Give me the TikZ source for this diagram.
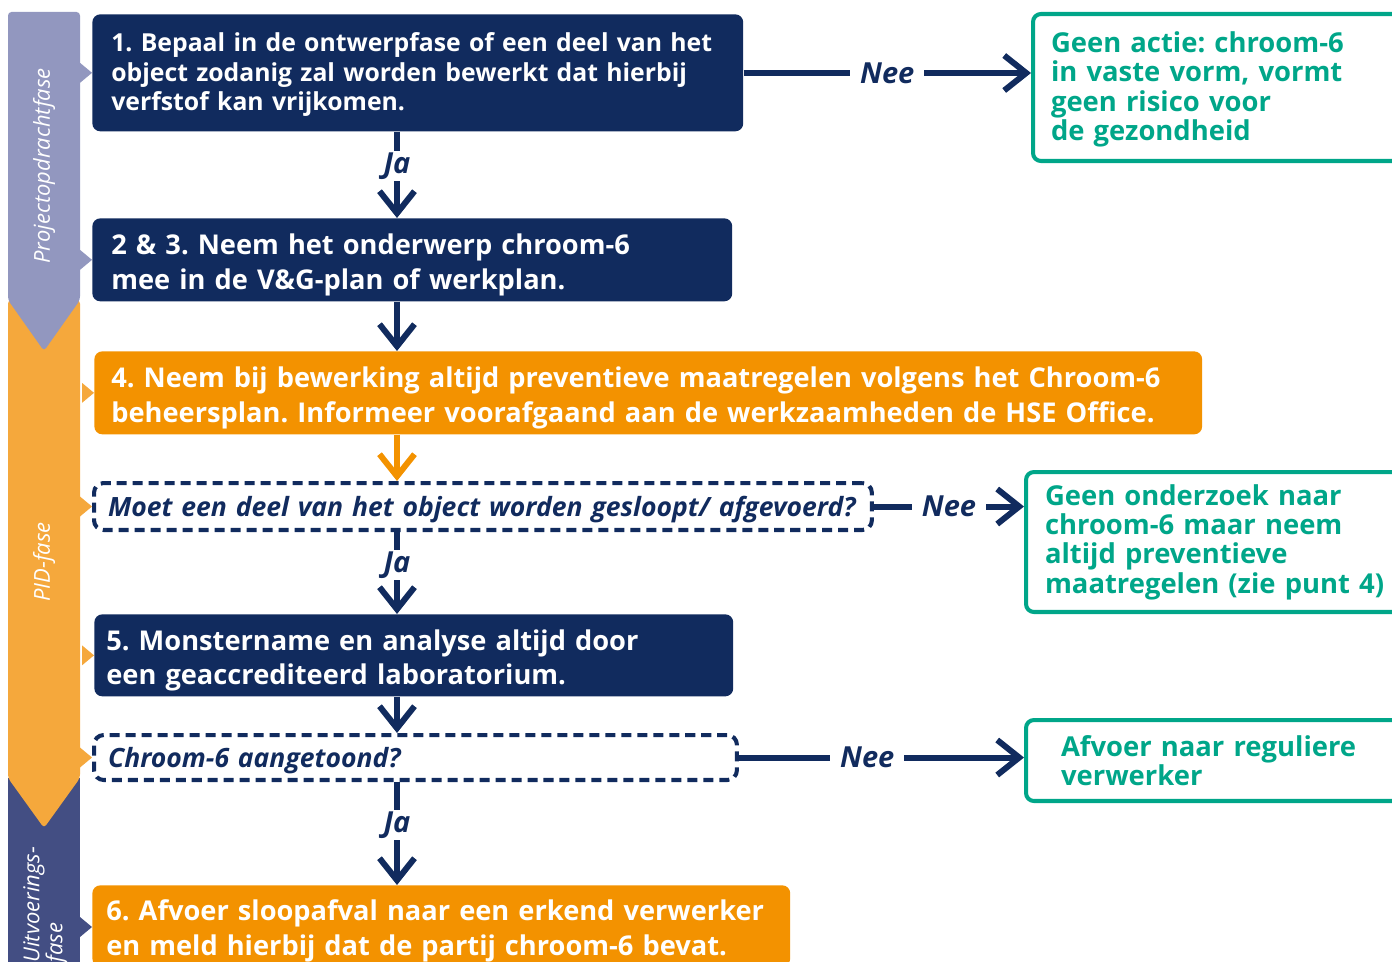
\documentclass[tikz,border=0pt]{standalone}
\usepackage{fontspec}
\setmainfont{Open Sans}
\usetikzlibrary{arrows.meta}
\frenchspacing
\hyphenpenalty=10000
\exhyphenpenalty=10000

\definecolor{navy}{RGB}{17,43,94}
\definecolor{oranje}{RGB}{243,146,0}
\definecolor{groen}{RGB}{0,166,137}
\definecolor{fasepaars}{RGB}{146,151,191}
\definecolor{faseoranje}{RGB}{245,168,60}
\definecolor{faseblauw}{RGB}{67,78,131}

\tikzset{
    stap/.style={fill=navy, text=white, rounded corners=4.5pt, anchor=north west,
        align=left, inner ysep=0pt, inner xsep=0.38cm,
        execute at begin node={\rule{0pt}{17.5pt}},
        font=\bfseries\fontsize{15.5}{19.8}\selectfont},
    oranjestap/.style={stap, fill=oranje},
    vraag/.style={draw=navy, line width=2.3pt, dash pattern=on 5.7pt off 3.4pt,
        rounded corners=5.5pt, text=navy, anchor=north west, align=left,
        inner ysep=0pt, inner xsep=0.28cm,
        execute at begin node={\rule{0pt}{14.9pt}},
        font=\bfseries\itshape\fontsize{15.1}{17}\selectfont},
    uitkomst/.style={draw=groen, line width=2.3pt, rounded corners=4.5pt, text=groen,
        anchor=north west, align=left, inner ysep=0pt,
        font=\bfseries\fontsize{15.6}{16.7}\selectfont},
    pijl/.style={line width=3.4pt, navy, -{Straight Barb[length=4.4mm,width=7mm]}},
    antwoord/.style={fill=white, text=navy, inner xsep=0.2cm, inner ysep=1pt,
        font=\bfseries\itshape\fontsize{16.5}{16.5}\selectfont},
    fase/.style={rotate=90, text=white, font=\itshape\fontsize{12.5}{13}\selectfont}
}

\begin{document}
\begin{tikzpicture}[x=0.02cm, y=-0.02cm]
    \useasboundingbox (0,0) rectangle (1392,962);

    % fasebalk links
    \fill[faseblauw] (8,778) rectangle (80,980);
    \fill[faseoranje, rounded corners=2pt] (8,300) -- (80,300) -- (80,778) -- (44,828) -- (8,778) -- cycle;
    \fill[fasepaars, rounded corners=2pt] (8,12) -- (80,12) -- (80,300) -- (44,351) -- (8,300) -- cycle;
    \node[fase] (f1) at (44,166) {Projectopdrachtfase};
    \node[fase] (f2) at (44,562) {PID-fase};
    \node[fase, anchor=north west, align=left, inner sep=0pt] (f3) at (23,963) {Uitvoerings-\\fase};

    % stappen
    \node[stap, text width=12.26cm, minimum height=2.34cm, execute at begin node={},
          execute at end node={\rule[-8pt]{0pt}{8pt}},
          font=\bfseries\fontsize{14.1}{16.7}\selectfont]
        (b1) at (92,14) {1. Bepaal in de ontwerpfase of een deel van het\\object zodanig zal worden bewerkt dat hierbij\\verfstof kan vrijkomen.};
    \node[stap, text width=12.04cm, minimum height=1.66cm]
        (b2) at (92,218) {2 \& 3. Neem het onderwerp chroom-6\\mee in de V\&G-plan of werkplan.};
    \node[oranjestap, text width=21.48cm, minimum height=1.66cm, inner xsep=0.34cm]
        (b4) at (94,351) {4. Neem bij bewerking altijd preventieve maatregelen volgens het Chroom-6\\beheersplan. Informeer voorafgaand aan de werkzaamheden de HSE Office.};
    \node[vraag, text width=15.0cm, minimum height=0.94cm]
        (q1) at (92,481) {Moet een deel van het object worden gesloopt/ afgevoerd?};
    \node[stap, text width=12.3cm, minimum height=1.64cm, inner xsep=0.24cm]
        (b5) at (94,614) {5. Monstername en analyse altijd door\\een geaccrediteerd laboratorium.};
    \node[vraag, text width=12.3cm, minimum height=0.9cm]
        (q2) at (92,733) {Chroom-6 aangetoond?};
    \node[oranjestap, text width=13.4cm, minimum height=1.62cm, inner xsep=0.28cm]
        (b6) at (92,885) {6. Afvoer sloopafval naar een erkend verwerker\\en meld hierbij dat de partij chroom-6 bevat.};

    % uitkomsten rechts
    \node[uitkomst, text width=7.6cm, minimum height=2.94cm, inner xsep=0.36cm,
          execute at begin node={\rule{0pt}{14.1pt}}]
        (g1) at (1031,12) {Geen actie: chroom-6\\in vaste vorm, vormt\\geen risico voor\\de gezondheid};
    \node[uitkomst, text width=7.6cm, minimum height=2.8cm, inner xsep=0.38cm]
        (g2) at (1024,470) {Geen onderzoek naar\\chroom-6 maar neem\\altijd preventieve\\maatregelen (zie punt 4)};
    \node[uitkomst, text width=7.0cm, minimum height=1.62cm, inner xsep=0.7cm]
        (g3) at (1024,718) {Afvoer naar reguliere\\verwerker};

    % verbindingen
    \coordinate (as) at (397,0);
    \draw[pijl] (b1.east |- 0,73) -- (g1.west |- 0,73) node[antwoord, pos=0.5] {Nee};
    \draw[pijl] (b1.south -| as) -- (b2.north -| as) node[antwoord, pos=0.4] {Ja};
    \draw[pijl] (b2.south -| as) -- (b4.north -| as);
    \draw[pijl, oranje] (b4.south -| as) -- (q1.north -| as);
    \draw[pijl] (q1.east) -- (q1.east -| g2.west) node[antwoord, pos=0.5] {Nee};
    \draw[pijl] (q1.south -| as) -- (b5.north -| as) node[antwoord, pos=0.4] {Ja};
    \draw[pijl] (b5.south -| as) -- (q2.north -| as);
    \draw[pijl] (q2.east) -- (q2.east -| g3.west) node[antwoord, pos=0.45] {Nee};
    \draw[pijl] (q2.south -| as) -- (b6.north -| as) node[antwoord, pos=0.42] {Ja};

    % inkepingen in de fasebalk
    \foreach \n/\c in {b1/fasepaars, b2/fasepaars, b4/faseoranje, q1/faseoranje,
                       b5/faseoranje, q2/faseoranje}
        \fill[\c] ([shift={(-12,-10)}]\n.west) -- (\n.west) -- ([shift={(-12,10)}]\n.west) -- cycle;
    \fill[faseblauw] (80,917) -- (92,927) -- (80,937) -- cycle;
\end{tikzpicture}
\end{document}
